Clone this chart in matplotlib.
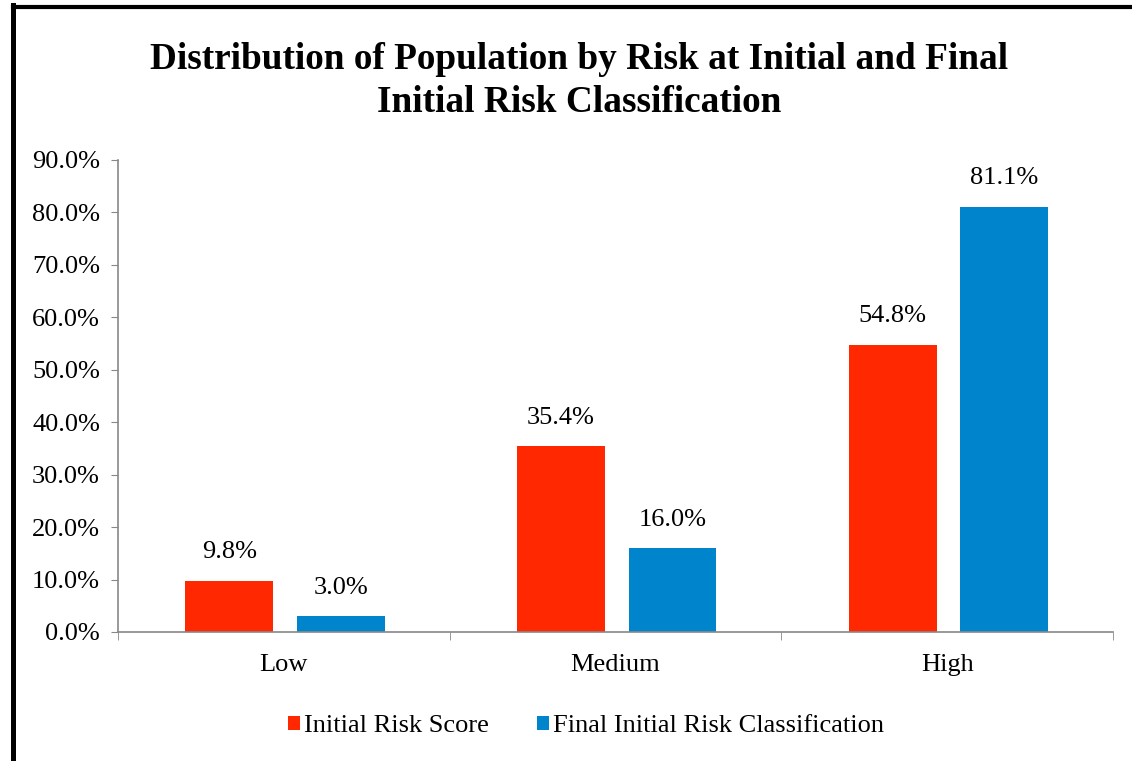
import numpy as np
import matplotlib.pyplot as plt
from matplotlib.lines import Line2D
from matplotlib.ticker import FixedLocator, FuncFormatter

# Daten
categories = ["Low", "Medium", "High"]
initial_score = [9.8, 35.4, 54.8]
final_class = [3.0, 16.0, 81.1]
series_names = ["Initial Risk Score", "Final Initial Risk Classification"]

RED = "#FF2800"
BLUE = "#0084CC"
GRAY = "#888888"

plt.rcParams["font.family"] = ["Liberation Serif", "DejaVu Serif"]

W, H = 1132, 761
fig = plt.figure(figsize=(W / 100, H / 100), dpi=100)
ax = fig.add_axes([118 / W, 1 - 632 / H, (1113 - 118) / W, (632 - 160) / H])

x = np.arange(len(categories))
bw = 0.265
b1 = ax.bar(x - 0.164, initial_score, bw, color=RED, label=series_names[0])
b2 = ax.bar(x + 0.172, final_class, bw, color=BLUE, label=series_names[1])

for bars in (b1, b2):
    for r in bars:
        ax.annotate(f"{r.get_height():.1f}%", (r.get_x() + r.get_width() / 2, r.get_height()),
                    xytext=(0, 20.5), textcoords="offset points", ha="center", va="center",
                    fontsize=19)

ax.set_xlim(-0.5, 2.5)
ax.set_ylim(0, 90)
ax.set_yticks(np.arange(0, 91, 10))
ax.yaxis.set_major_formatter(FuncFormatter(lambda v, p: f"{v:.1f}%"))
ax.tick_params(axis="y", labelsize=19, length=5, color=GRAY, pad=8)

ax.set_xticks(x)
ax.set_xticklabels(categories)
ax.tick_params(axis="x", which="major", length=0, labelsize=19, pad=16)
ax.xaxis.set_minor_locator(FixedLocator([-0.5, 0.5, 1.5, 2.5]))
ax.tick_params(axis="x", which="minor", length=6, color=GRAY)

for s in ["top", "right"]:
    ax.spines[s].set_visible(False)
for s in ["left", "bottom"]:
    ax.spines[s].set_color(GRAY)
    ax.spines[s].set_linewidth(1.2)

fig.text(579 / W, 1 - 81 / H,
         "Distribution of Population by Risk at Initial and Final\nInitial Risk Classification",
         ha="center", va="center", fontsize=26.8, fontweight="bold", linespacing=1.27)

fig.legend(handles=[b1, b2], loc="center", bbox_to_anchor=(586 / W, 1 - 726 / H),
           ncol=2, frameon=False, fontsize=19, handlelength=0.45, handleheight=0.45,
           handletextpad=0.15, columnspacing=1.8)

# Rahmen links/oben
fig.add_artist(Line2D([12.5 / W, 12.5 / W], [0, 1 - 5 / H], transform=fig.transFigure,
                      color="black", lw=3.6, solid_capstyle="projecting"))
fig.add_artist(Line2D([12.5 / W, 1], [1 - 7 / H, 1 - 7 / H], transform=fig.transFigure,
                      color="black", lw=3.0))

fig.savefig("out.png", dpi=100)
